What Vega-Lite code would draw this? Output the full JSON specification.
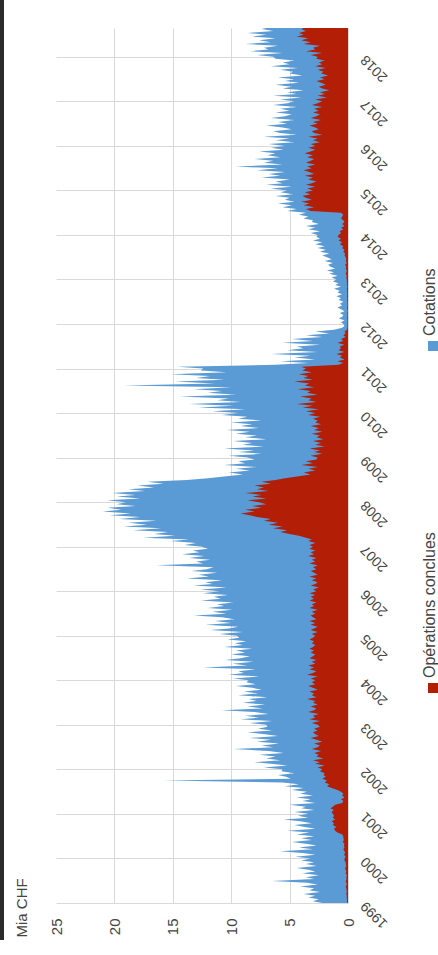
{
"$schema": "https://vega.github.io/schema/vega-lite/v6.json",
"width": 292, "height": 875,
"autosize": "none",
"padding": {"left": 56, "top": 28, "right": 90, "bottom": 52},
"background": "white",
"config": {"font": "Liberation Sans", "view": {"stroke": null}},
"datasets": {"d": [
{"t":"1999-01-01","c":2.2,"o":0.05},{"t":"1999-01-16","c":3.0,"o":0.1},{"t":"1999-02-01","c":2.5,"o":0.08},{"t":"1999-02-16","c":3.4,"o":0.12},{"t":"1999-03-01","c":2.8,"o":0.1},{"t":"1999-03-16","c":3.8,"o":0.15},{"t":"1999-04-01","c":2.4,"o":0.1},{"t":"1999-04-16","c":3.3,"o":0.12},{"t":"1999-05-01","c":2.9,"o":0.15},{"t":"1999-05-16","c":4.1,"o":0.2},{"t":"1999-06-01","c":2.6,"o":0.1},{"t":"1999-06-16","c":3.5,"o":0.15},{"t":"1999-07-01","c":6.5,"o":0.2},{"t":"1999-07-16","c":2.9,"o":0.12},{"t":"1999-08-01","c":3.6,"o":0.15},{"t":"1999-08-16","c":2.5,"o":0.1},{"t":"1999-09-01","c":3.9,"o":0.2},{"t":"1999-09-16","c":2.8,"o":0.15},{"t":"1999-10-01","c":3.4,"o":0.2},{"t":"1999-10-16","c":4.4,"o":0.25},{"t":"1999-11-01","c":2.7,"o":0.15},{"t":"1999-11-16","c":3.6,"o":0.2},{"t":"1999-12-01","c":2.9,"o":0.2},{"t":"1999-12-16","c":4.0,"o":0.3},
{"t":"2000-01-01","c":3.2,"o":0.3},{"t":"2000-01-16","c":4.5,"o":0.2},{"t":"2000-02-01","c":2.8,"o":0.35},{"t":"2000-02-16","c":3.9,"o":0.25},{"t":"2000-03-01","c":5.8,"o":0.3},{"t":"2000-03-16","c":3.0,"o":0.4},{"t":"2000-04-01","c":4.2,"o":0.3},{"t":"2000-04-16","c":2.7,"o":0.35},{"t":"2000-05-01","c":3.6,"o":0.3},{"t":"2000-05-16","c":4.8,"o":0.45},{"t":"2000-06-01","c":3.1,"o":0.35},{"t":"2000-06-16","c":4.0,"o":0.4},{"t":"2000-07-01","c":2.9,"o":0.4},{"t":"2000-07-16","c":4.4,"o":0.5},{"t":"2000-08-01","c":3.3,"o":0.9},{"t":"2000-08-16","c":5.2,"o":1.1},{"t":"2000-09-01","c":2.8,"o":1.2},{"t":"2000-09-16","c":3.7,"o":1.0},{"t":"2000-10-01","c":4.6,"o":1.3},{"t":"2000-10-16","c":3.1,"o":1.2},{"t":"2000-11-01","c":4.1,"o":1.4},{"t":"2000-11-16","c":5.5,"o":1.1},{"t":"2000-12-01","c":3.4,"o":1.3},{"t":"2000-12-16","c":4.3,"o":1.2},
{"t":"2001-01-01","c":3.4,"o":1.3},{"t":"2001-01-16","c":4.6,"o":1.4},{"t":"2001-02-01","c":2.9,"o":1.2},{"t":"2001-02-16","c":4.0,"o":1.5},{"t":"2001-03-01","c":3.6,"o":1.3},{"t":"2001-03-16","c":5.0,"o":1.1},{"t":"2001-04-01","c":2.8,"o":0.5},{"t":"2001-04-16","c":3.9,"o":0.4},{"t":"2001-05-01","c":3.2,"o":0.6},{"t":"2001-05-16","c":4.4,"o":0.3},{"t":"2001-06-01","c":3.0,"o":0.5},{"t":"2001-06-16","c":4.1,"o":0.4},{"t":"2001-07-01","c":3.5,"o":0.6},{"t":"2001-07-16","c":4.8,"o":0.9},{"t":"2001-08-01","c":3.8,"o":1.4},{"t":"2001-08-16","c":5.4,"o":1.8},{"t":"2001-09-01","c":4.2,"o":1.6},{"t":"2001-09-16","c":5.6,"o":2.0},{"t":"2001-10-01","c":15.8,"o":1.8},{"t":"2001-10-16","c":4.9,"o":2.2},{"t":"2001-11-01","c":5.3,"o":1.9},{"t":"2001-11-16","c":6.0,"o":2.1},{"t":"2001-12-01","c":4.6,"o":2.0},{"t":"2001-12-16","c":5.7,"o":2.4},
{"t":"2002-01-01","c":5.6,"o":2.2},{"t":"2002-01-16","c":7.2,"o":2.6},{"t":"2002-02-01","c":5.2,"o":2.0},{"t":"2002-02-16","c":6.6,"o":2.8},{"t":"2002-03-01","c":8.0,"o":2.4},{"t":"2002-03-16","c":5.8,"o":3.0},{"t":"2002-04-01","c":7.0,"o":2.1},{"t":"2002-04-16","c":6.2,"o":2.7},{"t":"2002-05-01","c":7.6,"o":2.5},{"t":"2002-05-16","c":5.5,"o":2.9},{"t":"2002-06-01","c":6.8,"o":2.3},{"t":"2002-06-16","c":9.8,"o":3.1},{"t":"2002-07-01","c":6.4,"o":2.6},{"t":"2002-07-16","c":7.4,"o":2.4},{"t":"2002-08-01","c":5.9,"o":2.9},{"t":"2002-08-16","c":7.8,"o":2.2},{"t":"2002-09-01","c":6.6,"o":2.7},{"t":"2002-09-16","c":8.4,"o":3.2},{"t":"2002-10-01","c":6.0,"o":2.5},{"t":"2002-10-16","c":7.1,"o":2.8},{"t":"2002-11-01","c":8.6,"o":3.0},{"t":"2002-11-16","c":6.5,"o":2.6},{"t":"2002-12-01","c":7.7,"o":2.9},{"t":"2002-12-16","c":6.9,"o":2.4},
{"t":"2003-01-01","c":7.0,"o":2.6},{"t":"2003-01-16","c":8.4,"o":3.1},{"t":"2003-02-01","c":6.5,"o":2.4},{"t":"2003-02-16","c":9.2,"o":3.3},{"t":"2003-03-01","c":7.6,"o":2.8},{"t":"2003-03-16","c":8.8,"o":3.0},{"t":"2003-04-01","c":6.8,"o":2.5},{"t":"2003-04-16","c":8.0,"o":3.4},{"t":"2003-05-01","c":10.8,"o":2.9},{"t":"2003-05-16","c":7.3,"o":2.7},{"t":"2003-06-01","c":8.6,"o":3.2},{"t":"2003-06-16","c":7.1,"o":2.6},{"t":"2003-07-01","c":9.0,"o":3.0},{"t":"2003-07-16","c":7.8,"o":2.8},{"t":"2003-08-01","c":8.5,"o":3.5},{"t":"2003-08-16","c":6.9,"o":2.7},{"t":"2003-09-01","c":9.4,"o":3.1},{"t":"2003-09-16","c":7.7,"o":2.9},{"t":"2003-10-01","c":8.9,"o":3.3},{"t":"2003-10-16","c":7.4,"o":2.6},{"t":"2003-11-01","c":8.2,"o":3.0},{"t":"2003-11-16","c":9.6,"o":3.4},{"t":"2003-12-01","c":7.9,"o":2.8},{"t":"2003-12-16","c":8.7,"o":3.1},
{"t":"2004-01-01","c":8.5,"o":2.8},{"t":"2004-01-16","c":9.8,"o":3.2},{"t":"2004-02-01","c":7.6,"o":2.6},{"t":"2004-02-16","c":10.2,"o":3.5},{"t":"2004-03-01","c":8.9,"o":3.0},{"t":"2004-03-16","c":9.4,"o":2.7},{"t":"2004-04-01","c":7.9,"o":3.3},{"t":"2004-04-16","c":12.4,"o":2.9},{"t":"2004-05-01","c":8.6,"o":3.4},{"t":"2004-05-16","c":9.9,"o":2.8},{"t":"2004-06-01","c":8.1,"o":3.1},{"t":"2004-06-16","c":10.5,"o":2.7},{"t":"2004-07-01","c":9.2,"o":3.3},{"t":"2004-07-16","c":8.4,"o":3.0},{"t":"2004-08-01","c":10.0,"o":2.8},{"t":"2004-08-16","c":8.8,"o":3.2},{"t":"2004-09-01","c":9.6,"o":2.9},{"t":"2004-09-16","c":8.2,"o":3.3},{"t":"2004-10-01","c":10.6,"o":3.0},{"t":"2004-10-16","c":9.0,"o":2.8},{"t":"2004-11-01","c":9.7,"o":3.1},{"t":"2004-11-16","c":8.7,"o":2.9},{"t":"2004-12-01","c":10.3,"o":3.3},{"t":"2004-12-16","c":9.3,"o":3.0},
{"t":"2005-01-01","c":9.5,"o":2.8},{"t":"2005-01-16","c":11.0,"o":3.1},{"t":"2005-02-01","c":9.0,"o":2.6},{"t":"2005-02-16","c":11.8,"o":3.2},{"t":"2005-03-01","c":10.2,"o":2.9},{"t":"2005-03-16","c":9.4,"o":2.6},{"t":"2005-04-01","c":12.2,"o":3.2},{"t":"2005-04-16","c":10.0,"o":2.8},{"t":"2005-05-01","c":11.4,"o":3.3},{"t":"2005-05-16","c":9.7,"o":2.7},{"t":"2005-06-01","c":10.8,"o":3.0},{"t":"2005-06-16","c":13.2,"o":3.2},{"t":"2005-07-01","c":10.4,"o":2.8},{"t":"2005-07-16","c":11.6,"o":3.1},{"t":"2005-08-01","c":9.9,"o":2.6},{"t":"2005-08-16","c":12.0,"o":3.3},{"t":"2005-09-01","c":10.6,"o":2.9},{"t":"2005-09-16","c":11.2,"o":3.1},{"t":"2005-10-01","c":9.8,"o":2.7},{"t":"2005-10-16","c":12.6,"o":3.3},{"t":"2005-11-01","c":10.9,"o":2.9},{"t":"2005-11-16","c":11.5,"o":3.2},{"t":"2005-12-01","c":10.3,"o":2.8},{"t":"2005-12-16","c":12.4,"o":3.3},
{"t":"2006-01-01","c":11.0,"o":2.7},{"t":"2006-01-16","c":12.6,"o":3.0},{"t":"2006-02-01","c":10.4,"o":2.5},{"t":"2006-02-16","c":13.2,"o":3.2},{"t":"2006-03-01","c":11.6,"o":2.8},{"t":"2006-03-16","c":12.2,"o":2.6},{"t":"2006-04-01","c":10.8,"o":3.1},{"t":"2006-04-16","c":13.8,"o":2.7},{"t":"2006-05-01","c":11.9,"o":3.3},{"t":"2006-05-16","c":12.8,"o":2.6},{"t":"2006-06-01","c":11.2,"o":2.9},{"t":"2006-06-16","c":13.4,"o":3.2},{"t":"2006-07-01","c":12.1,"o":2.7},{"t":"2006-07-16","c":11.5,"o":3.0},{"t":"2006-08-01","c":16.4,"o":2.6},{"t":"2006-08-16","c":12.4,"o":3.3},{"t":"2006-09-01","c":13.0,"o":2.8},{"t":"2006-09-16","c":11.8,"o":3.1},{"t":"2006-10-01","c":13.6,"o":2.7},{"t":"2006-10-16","c":12.3,"o":3.4},{"t":"2006-11-01","c":14.2,"o":2.9},{"t":"2006-11-16","c":12.7,"o":3.2},{"t":"2006-12-01","c":13.3,"o":2.8},{"t":"2006-12-16","c":12.0,"o":3.3},
{"t":"2007-01-01","c":12.5,"o":3.0},{"t":"2007-01-16","c":14.0,"o":3.3},{"t":"2007-02-01","c":13.0,"o":2.8},{"t":"2007-02-16","c":15.2,"o":3.4},{"t":"2007-03-01","c":13.6,"o":3.1},{"t":"2007-03-16","c":17.5,"o":3.6},{"t":"2007-04-01","c":14.8,"o":4.2},{"t":"2007-04-16","c":16.6,"o":5.0},{"t":"2007-05-01","c":15.4,"o":5.8},{"t":"2007-05-16","c":18.4,"o":5.2},{"t":"2007-06-01","c":16.0,"o":6.4},{"t":"2007-06-16","c":19.2,"o":5.6},{"t":"2007-07-01","c":17.2,"o":6.8},{"t":"2007-07-16","c":18.8,"o":6.0},{"t":"2007-08-01","c":16.4,"o":7.2},{"t":"2007-08-16","c":19.6,"o":6.6},{"t":"2007-09-01","c":17.8,"o":7.8},{"t":"2007-09-16","c":20.4,"o":8.4},{"t":"2007-10-01","c":18.6,"o":9.2},{"t":"2007-10-16","c":21.0,"o":8.0},{"t":"2007-11-01","c":19.4,"o":8.8},{"t":"2007-11-16","c":20.6,"o":7.4},{"t":"2007-12-01","c":18.2,"o":8.2},{"t":"2007-12-16","c":19.8,"o":7.0},
{"t":"2008-01-01","c":19.0,"o":7.6},{"t":"2008-01-16","c":20.6,"o":8.6},{"t":"2008-02-01","c":17.8,"o":7.0},{"t":"2008-02-16","c":19.8,"o":8.2},{"t":"2008-03-01","c":18.2,"o":7.4},{"t":"2008-03-16","c":20.2,"o":8.8},{"t":"2008-04-01","c":17.4,"o":6.8},{"t":"2008-04-16","c":18.8,"o":7.8},{"t":"2008-05-01","c":16.6,"o":7.2},{"t":"2008-05-16","c":18.0,"o":8.0},{"t":"2008-06-01","c":15.8,"o":6.6},{"t":"2008-06-16","c":17.2,"o":7.4},{"t":"2008-07-01","c":13.8,"o":6.2},{"t":"2008-07-16","c":12.0,"o":5.4},{"t":"2008-08-01","c":10.4,"o":4.2},{"t":"2008-08-16","c":9.0,"o":3.2},{"t":"2008-09-01","c":10.2,"o":3.8},{"t":"2008-09-16","c":8.4,"o":2.8},{"t":"2008-10-01","c":9.6,"o":3.4},{"t":"2008-10-16","c":7.8,"o":2.6},{"t":"2008-11-01","c":10.6,"o":4.0},{"t":"2008-11-16","c":8.8,"o":3.0},{"t":"2008-12-01","c":9.4,"o":3.6},{"t":"2008-12-16","c":8.0,"o":2.7},
{"t":"2009-01-01","c":8.6,"o":2.6},{"t":"2009-01-16","c":10.2,"o":3.2},{"t":"2009-02-01","c":7.4,"o":2.2},{"t":"2009-02-16","c":9.4,"o":2.9},{"t":"2009-03-01","c":8.0,"o":2.4},{"t":"2009-03-16","c":10.6,"o":3.3},{"t":"2009-04-01","c":7.2,"o":2.0},{"t":"2009-04-16","c":9.0,"o":2.8},{"t":"2009-05-01","c":8.2,"o":2.3},{"t":"2009-05-16","c":9.8,"o":3.0},{"t":"2009-06-01","c":7.0,"o":2.1},{"t":"2009-06-16","c":8.8,"o":2.7},{"t":"2009-07-01","c":7.8,"o":2.4},{"t":"2009-07-16","c":9.6,"o":3.1},{"t":"2009-08-01","c":8.4,"o":2.2},{"t":"2009-08-16","c":10.4,"o":2.9},{"t":"2009-09-01","c":7.6,"o":2.5},{"t":"2009-09-16","c":9.2,"o":3.2},{"t":"2009-10-01","c":8.2,"o":2.3},{"t":"2009-10-16","c":10.0,"o":2.8},{"t":"2009-11-01","c":7.4,"o":2.6},{"t":"2009-11-16","c":9.4,"o":3.0},{"t":"2009-12-01","c":8.6,"o":2.4},{"t":"2009-12-16","c":10.8,"o":3.4},
{"t":"2010-01-01","c":9.4,"o":2.8},{"t":"2010-01-16","c":11.6,"o":3.6},{"t":"2010-02-01","c":8.8,"o":2.5},{"t":"2010-02-16","c":12.8,"o":3.9},{"t":"2010-03-01","c":9.8,"o":3.0},{"t":"2010-03-16","c":13.6,"o":4.4},{"t":"2010-04-01","c":9.2,"o":2.7},{"t":"2010-04-16","c":11.2,"o":3.4},{"t":"2010-05-01","c":10.2,"o":3.1},{"t":"2010-05-16","c":14.4,"o":4.1},{"t":"2010-06-01","c":9.6,"o":2.6},{"t":"2010-06-16","c":12.0,"o":3.5},{"t":"2010-07-01","c":10.8,"o":3.2},{"t":"2010-07-16","c":13.2,"o":4.3},{"t":"2010-08-01","c":10.0,"o":2.9},{"t":"2010-08-16","c":19.2,"o":3.7},{"t":"2010-09-01","c":11.4,"o":3.3},{"t":"2010-09-16","c":14.8,"o":4.6},{"t":"2010-10-01","c":10.6,"o":3.0},{"t":"2010-10-16","c":13.0,"o":3.8},{"t":"2010-11-01","c":11.8,"o":3.4},{"t":"2010-11-16","c":15.2,"o":4.2},{"t":"2010-12-01","c":10.4,"o":3.1},{"t":"2010-12-16","c":12.6,"o":3.9},
{"t":"2011-01-01","c":12.4,"o":3.6},{"t":"2011-01-16","c":14.6,"o":4.0},{"t":"2011-02-01","c":6.2,"o":0.8},{"t":"2011-02-16","c":3.4,"o":0.4},{"t":"2011-03-01","c":5.8,"o":0.9},{"t":"2011-03-16","c":2.8,"o":0.3},{"t":"2011-04-01","c":4.6,"o":0.7},{"t":"2011-04-16","c":3.2,"o":0.5},{"t":"2011-05-01","c":6.6,"o":1.0},{"t":"2011-05-16","c":2.6,"o":0.3},{"t":"2011-06-01","c":5.2,"o":0.8},{"t":"2011-06-16","c":3.8,"o":0.6},{"t":"2011-07-01","c":4.4,"o":0.7},{"t":"2011-07-16","c":2.4,"o":0.3},{"t":"2011-08-01","c":5.6,"o":0.9},{"t":"2011-08-16","c":3.0,"o":0.4},{"t":"2011-09-01","c":4.8,"o":0.6},{"t":"2011-09-16","c":2.2,"o":0.2},{"t":"2011-10-01","c":3.6,"o":0.4},{"t":"2011-10-16","c":1.6,"o":0.2},{"t":"2011-11-01","c":2.8,"o":0.3},{"t":"2011-11-16","c":1.2,"o":0.1},{"t":"2011-12-01","c":0.5,"o":0.05},{"t":"2011-12-16","c":0.3,"o":0.05},
{"t":"2012-01-01","c":0.4,"o":0.05},{"t":"2012-01-16","c":0.6,"o":0.05},{"t":"2012-02-01","c":0.3,"o":0.03},{"t":"2012-02-16","c":0.8,"o":0.08},{"t":"2012-03-01","c":0.5,"o":0.05},{"t":"2012-03-16","c":0.4,"o":0.04},{"t":"2012-04-01","c":0.7,"o":0.06},{"t":"2012-04-16","c":0.3,"o":0.03},{"t":"2012-05-01","c":0.6,"o":0.05},{"t":"2012-05-16","c":0.9,"o":0.08},{"t":"2012-06-01","c":0.5,"o":0.04},{"t":"2012-06-16","c":0.7,"o":0.06},{"t":"2012-07-01","c":0.4,"o":0.05},{"t":"2012-07-16","c":0.8,"o":0.07},{"t":"2012-08-01","c":0.6,"o":0.05},{"t":"2012-08-16","c":1.0,"o":0.09},{"t":"2012-09-01","c":0.5,"o":0.05},{"t":"2012-09-16","c":0.9,"o":0.08},{"t":"2012-10-01","c":0.7,"o":0.06},{"t":"2012-10-16","c":1.2,"o":0.1},{"t":"2012-11-01","c":0.6,"o":0.05},{"t":"2012-11-16","c":1.1,"o":0.1},{"t":"2012-12-01","c":0.8,"o":0.07},{"t":"2012-12-16","c":1.3,"o":0.1},
{"t":"2013-01-01","c":1.0,"o":0.1},{"t":"2013-01-16","c":1.4,"o":0.15},{"t":"2013-02-01","c":0.9,"o":0.1},{"t":"2013-02-16","c":1.6,"o":0.2},{"t":"2013-03-01","c":1.2,"o":0.15},{"t":"2013-03-16","c":1.8,"o":0.1},{"t":"2013-04-01","c":1.1,"o":0.2},{"t":"2013-04-16","c":1.5,"o":0.15},{"t":"2013-05-01","c":1.7,"o":0.25},{"t":"2013-05-16","c":1.3,"o":0.1},{"t":"2013-06-01","c":2.0,"o":0.2},{"t":"2013-06-16","c":1.4,"o":0.15},{"t":"2013-07-01","c":1.8,"o":0.2},{"t":"2013-07-16","c":2.2,"o":0.3},{"t":"2013-08-01","c":1.6,"o":0.25},{"t":"2013-08-16","c":2.4,"o":0.4},{"t":"2013-09-01","c":1.9,"o":0.3},{"t":"2013-09-16","c":2.6,"o":0.5},{"t":"2013-10-01","c":2.0,"o":0.4},{"t":"2013-10-16","c":2.8,"o":0.7},{"t":"2013-11-01","c":2.2,"o":0.5},{"t":"2013-11-16","c":3.0,"o":0.8},{"t":"2013-12-01","c":2.4,"o":0.6},{"t":"2013-12-16","c":2.7,"o":0.9},
{"t":"2014-01-01","c":2.6,"o":0.8},{"t":"2014-01-16","c":3.2,"o":0.6},{"t":"2014-02-01","c":2.4,"o":0.7},{"t":"2014-02-16","c":3.4,"o":0.4},{"t":"2014-03-01","c":2.8,"o":0.6},{"t":"2014-03-16","c":3.6,"o":0.3},{"t":"2014-04-01","c":2.5,"o":0.5},{"t":"2014-04-16","c":3.1,"o":0.3},{"t":"2014-05-01","c":3.0,"o":0.4},{"t":"2014-05-16","c":3.8,"o":0.6},{"t":"2014-06-01","c":3.4,"o":0.5},{"t":"2014-06-16","c":4.2,"o":0.4},{"t":"2014-07-01","c":3.6,"o":0.6},{"t":"2014-07-16","c":5.2,"o":3.2},{"t":"2014-08-01","c":4.4,"o":3.6},{"t":"2014-08-16","c":5.6,"o":2.9},{"t":"2014-09-01","c":4.8,"o":3.8},{"t":"2014-09-16","c":6.0,"o":3.3},{"t":"2014-10-01","c":4.6,"o":4.0},{"t":"2014-10-16","c":5.4,"o":3.1},{"t":"2014-11-01","c":5.0,"o":3.6},{"t":"2014-11-16","c":6.2,"o":3.9},{"t":"2014-12-01","c":4.7,"o":3.2},{"t":"2014-12-16","c":5.8,"o":3.7},
{"t":"2015-01-01","c":5.2,"o":3.0},{"t":"2015-01-16","c":6.6,"o":3.5},{"t":"2015-02-01","c":4.8,"o":2.8},{"t":"2015-02-16","c":7.0,"o":3.6},{"t":"2015-03-01","c":5.6,"o":3.1},{"t":"2015-03-16","c":6.2,"o":2.7},{"t":"2015-04-01","c":5.0,"o":3.4},{"t":"2015-04-16","c":7.4,"o":3.0},{"t":"2015-05-01","c":5.8,"o":3.7},{"t":"2015-05-16","c":6.8,"o":2.9},{"t":"2015-06-01","c":5.4,"o":3.3},{"t":"2015-06-16","c":7.8,"o":3.8},{"t":"2015-07-01","c":6.0,"o":3.1},{"t":"2015-07-16","c":9.6,"o":3.5},{"t":"2015-08-01","c":5.6,"o":2.8},{"t":"2015-08-16","c":7.2,"o":3.6},{"t":"2015-09-01","c":6.4,"o":3.2},{"t":"2015-09-16","c":8.0,"o":2.9},{"t":"2015-10-01","c":5.8,"o":3.5},{"t":"2015-10-16","c":6.9,"o":3.0},{"t":"2015-11-01","c":6.2,"o":3.7},{"t":"2015-11-16","c":7.6,"o":3.2},{"t":"2015-12-01","c":5.5,"o":2.8},{"t":"2015-12-16","c":6.6,"o":3.4},
{"t":"2016-01-01","c":5.4,"o":2.8},{"t":"2016-01-16","c":6.8,"o":3.2},{"t":"2016-02-01","c":4.6,"o":2.4},{"t":"2016-02-16","c":6.2,"o":3.0},{"t":"2016-03-01","c":5.0,"o":2.6},{"t":"2016-03-16","c":7.2,"o":3.4},{"t":"2016-04-01","c":4.4,"o":2.2},{"t":"2016-04-16","c":5.8,"o":2.9},{"t":"2016-05-01","c":6.4,"o":3.1},{"t":"2016-05-16","c":4.8,"o":2.5},{"t":"2016-06-01","c":5.6,"o":2.8},{"t":"2016-06-16","c":7.0,"o":3.3},{"t":"2016-07-01","c":5.2,"o":2.6},{"t":"2016-07-16","c":6.0,"o":3.0},{"t":"2016-08-01","c":4.6,"o":2.3},{"t":"2016-08-16","c":6.6,"o":3.2},{"t":"2016-09-01","c":5.4,"o":2.7},{"t":"2016-09-16","c":4.8,"o":2.4},{"t":"2016-10-01","c":6.2,"o":3.0},{"t":"2016-10-16","c":5.0,"o":2.5},{"t":"2016-11-01","c":5.8,"o":2.9},{"t":"2016-11-16","c":4.4,"o":2.2},{"t":"2016-12-01","c":6.4,"o":3.1},{"t":"2016-12-16","c":5.2,"o":2.6},
{"t":"2017-01-01","c":4.6,"o":2.2},{"t":"2017-01-16","c":5.8,"o":2.8},{"t":"2017-02-01","c":4.0,"o":1.8},{"t":"2017-02-16","c":6.4,"o":2.6},{"t":"2017-03-01","c":4.4,"o":2.0},{"t":"2017-03-16","c":5.2,"o":2.4},{"t":"2017-04-01","c":3.8,"o":1.6},{"t":"2017-04-16","c":5.6,"o":2.2},{"t":"2017-05-01","c":4.8,"o":2.5},{"t":"2017-05-16","c":6.2,"o":1.9},{"t":"2017-06-01","c":4.2,"o":2.3},{"t":"2017-06-16","c":5.4,"o":2.7},{"t":"2017-07-01","c":4.6,"o":2.0},{"t":"2017-07-16","c":6.0,"o":2.4},{"t":"2017-08-01","c":3.9,"o":1.7},{"t":"2017-08-16","c":5.0,"o":2.3},{"t":"2017-09-01","c":4.7,"o":2.1},{"t":"2017-09-16","c":5.8,"o":2.6},{"t":"2017-10-01","c":4.3,"o":1.9},{"t":"2017-10-16","c":6.6,"o":2.8},{"t":"2017-11-01","c":5.0,"o":2.2},{"t":"2017-11-16","c":5.6,"o":2.5},{"t":"2017-12-01","c":4.6,"o":2.0},{"t":"2017-12-16","c":6.2,"o":2.7},
{"t":"2018-01-01","c":6.4,"o":2.6},{"t":"2018-01-16","c":7.8,"o":3.2},{"t":"2018-02-01","c":5.6,"o":2.2},{"t":"2018-02-16","c":8.4,"o":3.6},{"t":"2018-03-01","c":6.8,"o":2.8},{"t":"2018-03-16","c":7.2,"o":3.0},{"t":"2018-04-01","c":6.0,"o":2.4},{"t":"2018-04-16","c":8.8,"o":3.8},{"t":"2018-05-01","c":6.6,"o":3.2},{"t":"2018-05-16","c":7.6,"o":4.0},{"t":"2018-06-01","c":6.2,"o":3.4},{"t":"2018-06-16","c":8.2,"o":4.4},{"t":"2018-07-01","c":7.0,"o":3.8},{"t":"2018-07-16","c":8.6,"o":4.2},{"t":"2018-08-01","c":6.4,"o":3.6},{"t":"2018-08-16","c":7.4,"o":4.0},{"t":"2018-08-25","c":7.0,"o":3.8}
]},
"data": {"name": "d"},
"layer": [
{"mark": {"type": "rule", "color": "#2b2b2b", "strokeWidth": 3},
 "encoding": {
  "x": {"datum": 29.6, "type": "quantitative"},
  "y": {"datum": {"year": 2019, "month": 4, "date": 10, "utc": true}, "type": "temporal"},
  "y2": {"datum": {"year": 1998, "month": 3, "date": 3, "utc": true}}
 }},
{"mark": {"type": "area", "orient": "horizontal"},
 "encoding": {
  "y": {"field": "t", "type": "temporal",
   "scale": {"type": "utc", "domain": [{"year": 1999, "month": 1, "date": 1, "utc": true}, {"year": 2018, "month": 8, "date": 25, "utc": true}]},
   "axis": {"orient": "right", "title": null, "format": "%Y", "tickCount": {"interval": "year", "step": 1},
    "labelAngle": 225, "labelAlign": "right", "labelBaseline": "middle", "labelPadding": 15,
    "labelFontSize": 14, "labelColor": "#444", "ticks": false, "domain": false,
    "grid": true, "gridColor": "#d9d9d9", "labelOverlap": false, "labelFlush": false, "labelBound": false}},
  "x": {"field": "c", "type": "quantitative", "stack": null,
   "scale": {"domain": [0, 25], "reverse": true, "nice": false, "zero": true},
   "axis": {"title": "Mia CHF", "values": [0, 5, 10, 15, 20, 25], "orient": "bottom",
    "labelAngle": 270, "labelAlign": "right", "labelBaseline": "middle", "labelPadding": 15,
    "labelFontSize": 15, "labelColor": "#444", "ticks": false, "domain": false, "labelFlush": false, "labelOverlap": false,
    "grid": true, "gridColor": "#d9d9d9", "gridOpacity": {"condition": {"test": "datum.value >= 25", "value": 0}, "value": 1},
    "titleAngle": 270, "titleAlign": "left", "titleBaseline": "alphabetic", "titleX": -30, "titleY": 34,
    "titleFontSize": 15, "titleFontWeight": "normal", "titleColor": "#444"}},
  "color": {"datum": "Cotations",
   "scale": {"domain": ["Cotations", "Opérations conclues"], "range": ["#5b9bd5", "#b31e06"]},
   "legend": {"orient": "none", "legendX": 369, "legendY": 310, "direction": "vertical", "title": null,
    "symbolType": "square", "symbolSize": 100, "symbolStrokeWidth": 0, "symbolOpacity": 1,
    "labelFontSize": 16, "labelColor": "#444", "labelLimit": 400, "labelOffset": 0, "rowPadding": 181,
    "encode": {"labels": {"update": {"angle": {"value": -90}, "align": {"value": "left"}, "baseline": {"value": "middle"}, "x": {"value": 5}, "dx": {"value": 10}}}}}}
 }},
{"mark": {"type": "area", "orient": "horizontal"},
 "encoding": {
  "y": {"field": "t", "type": "temporal"},
  "x": {"field": "o", "type": "quantitative", "stack": null},
  "color": {"datum": "Opérations conclues"}
 }}
]
}
